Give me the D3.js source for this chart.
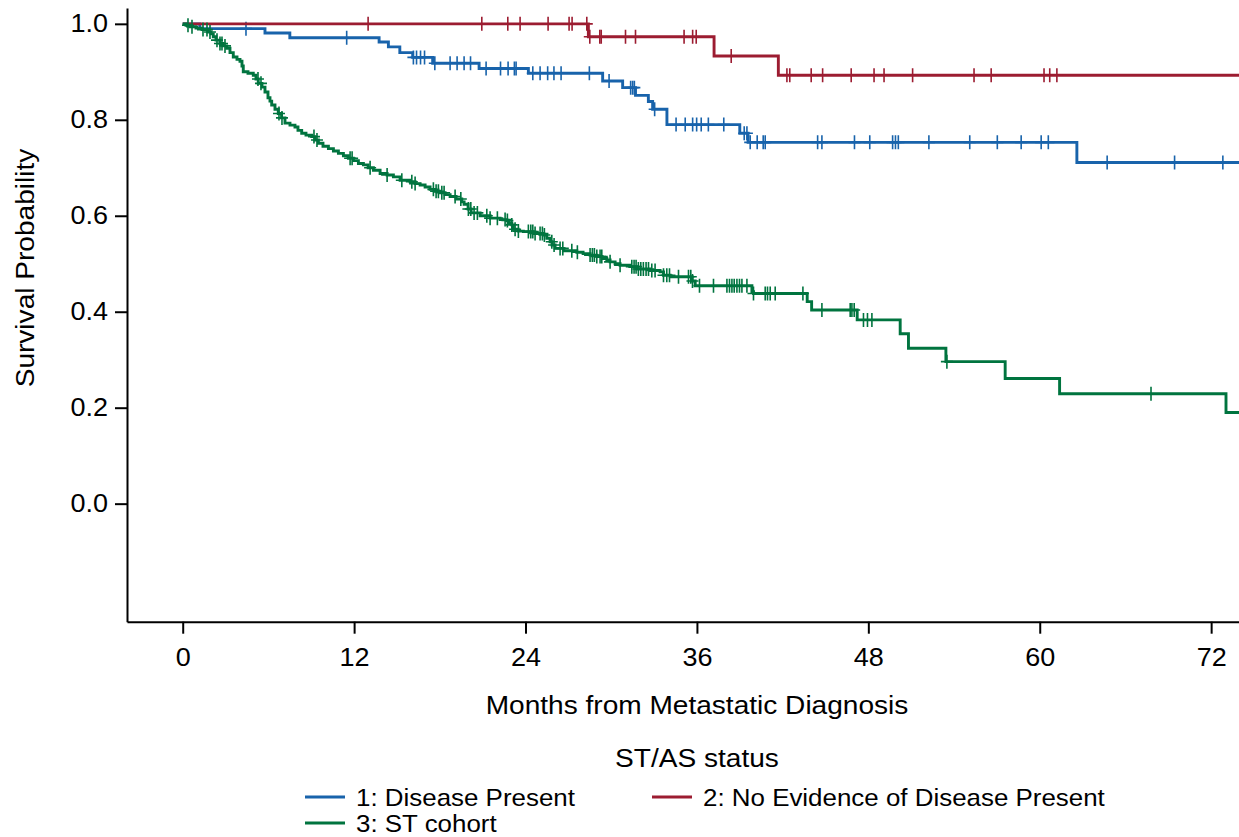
<!DOCTYPE html>
<html><head><meta charset="utf-8">
<script src="https://cdn.jsdelivr.net/npm/d3@7"></script>
<style>body{margin:0;background:#fff}svg{display:block}</style>
</head><body>
<svg id="chart" width="1239" height="837"></svg>
<script>
// ---------- data ----------
const xTicks = [0, 12, 24, 36, 48, 60, 72];
const yTicks = [0, 0.2, 0.4, 0.6, 0.8, 1.0];
const seriesNames = ["1: Disease Present", "2: No Evidence of Disease Present", "3: ST cohort"];
const legendTitle = "ST/AS status";
const xTitle = "Months from Metastatic Diagnosis";
const yTitle = "Survival Probability";
const tEnd = 74.0;

// [month, survival] : survival level from this month onward
const blueSteps = [[0,1],[1.2,0.990],[5.76,0.981],[7.5,0.971],[13.75,0.962],[14.4,0.952],[15.2,0.940],[16.1,0.930],[17.5,0.918],[20.75,0.907],[24.2,0.897],[29.4,0.881],[30.8,0.867],[31.7,0.851],[32.6,0.838],[32.9,0.822],[33.9,0.790],[39.0,0.772],[39.58,0.753],[62.6,0.711]];
const blueCensor = [4.43,11.48,16.15,16.37,16.65,16.93,17.65,18.72,19.21,19.70,20.15,21.24,22.25,22.78,23.22,23.34,24.51,25.02,25.55,25.99,26.49,28.47,29.85,31.36,31.50,31.62,33.04,34.54,35.18,35.70,35.98,36.30,36.80,37.88,39.31,39.50,39.73,40.22,40.64,40.78,44.45,44.75,47.03,48.10,49.70,49.90,50.10,52.24,55.10,57.03,58.70,60.10,60.60,64.72,69.44,72.82];

const redSteps = [[0,1],[28.4,0.973],[37.2,0.933],[41.7,0.893]];
const redCensor = [12.98,20.94,22.76,23.62,25.58,27.05,27.26,28.29,28.5,29.2,29.3,31.0,31.7,35.1,35.7,35.95,38.4,42.3,42.5,44.0,44.8,46.8,48.4,49.1,51.1,55.4,56.6,60.3,60.7,61.2];

const greenSteps = [[0,1],[0.23,0.997],[0.51,0.994],[0.93,0.991],[1.35,0.988],[1.77,0.983],[1.98,0.979],[2.14,0.973],[2.33,0.966],[2.61,0.959],[2.82,0.954],[3.08,0.949],[3.31,0.940],[3.54,0.931],[3.80,0.926],[4.01,0.922],[4.15,0.912],[4.24,0.900],[4.57,0.897],[4.94,0.893],[5.13,0.885],[5.29,0.876],[5.55,0.868],[5.76,0.858],[5.97,0.846],[6.11,0.839],[6.23,0.831],[6.46,0.822],[6.69,0.813],[6.92,0.804],[7.16,0.793],[7.51,0.789],[7.86,0.785],[8.07,0.778],[8.33,0.772],[8.63,0.768],[9.03,0.765],[9.26,0.758],[9.50,0.751],[9.82,0.745],[10.20,0.740],[10.55,0.735],[10.90,0.730],[11.25,0.725],[11.60,0.720],[11.95,0.715],[12.30,0.709],[12.65,0.706],[12.98,0.700],[13.35,0.695],[13.82,0.688],[14.31,0.685],[14.75,0.681],[15.22,0.674],[15.92,0.671],[16.27,0.667],[16.62,0.664],[16.97,0.660],[17.32,0.655],[17.67,0.651],[18.02,0.648],[18.37,0.644],[18.72,0.640],[19.14,0.635],[19.54,0.629],[19.70,0.624],[19.98,0.614],[20.19,0.606],[20.82,0.600],[21.52,0.595],[22.22,0.592],[22.69,0.590],[22.85,0.585],[23.04,0.581],[23.15,0.572],[23.48,0.568],[23.85,0.567],[24.55,0.563],[25.25,0.560],[25.49,0.553],[25.72,0.546],[25.86,0.539],[26.07,0.532],[26.65,0.527],[27.59,0.524],[28.03,0.521],[28.52,0.518],[28.99,0.515],[29.36,0.511],[29.69,0.508],[29.92,0.504],[30.27,0.500],[30.62,0.497],[31.32,0.494],[31.79,0.489],[32.72,0.486],[33.42,0.483],[33.66,0.476],[34.13,0.473],[35.67,0.464],[35.88,0.454],[39.85,0.442],[39.96,0.438],[43.72,0.421],[44.03,0.4035],[47.22,0.383],[50.23,0.354],[50.81,0.324],[53.43,0.296],[57.58,0.261],[61.39,0.229],[73.04,0.190]];
const greenCensor = [0.37,0.65,1.42,1.70,1.91,2.40,2.61,2.75,2.96,5.27,5.48,6.74,6.95,9.19,9.40,11.72,11.86,13.12,14.31,15.34,16.04,16.27,17.55,17.74,17.90,18.14,18.30,19.07,19.47,20.00,20.17,20.40,20.63,21.29,21.52,22.03,22.57,22.73,23.04,23.27,23.50,24.20,24.37,24.51,24.67,25.02,25.18,25.32,25.84,26.00,26.42,26.61,27.24,27.63,28.52,28.68,28.82,28.99,29.22,29.34,29.92,30.62,31.44,31.60,31.74,31.90,32.07,32.25,32.44,32.61,32.84,33.07,33.66,33.89,34.08,34.71,35.41,35.57,35.69,36.18,37.16,38.10,38.28,38.45,38.61,38.80,38.98,39.15,39.50,39.96,40.78,40.94,41.13,41.48,43.42,44.75,46.73,46.85,47.01,47.66,47.94,48.25,53.50,67.79];

const colors = ["#1863ab", "#9c1c31", "#00743f"];

// ---------- drawing ----------
const FONT = "'Liberation Sans', Arial, Helvetica, sans-serif";
const SX = 1.08;
const svg = d3.select("#chart");
svg.append("rect").attr("width",1239).attr("height",837).attr("fill","#fff");

const x = d3.scaleLinear().domain([-3.9, 73.95]).range([127, 1239]);
const y = d3.scaleLinear().domain([-0.246, 1.033]).range([621.7, 8]);

// axes
const gx = svg.append("g").attr("transform","translate(0,621.7)")
  .call(d3.axisBottom(x).tickValues(xTicks).tickSize(12).tickSizeOuter(0).tickPadding(15).tickFormat(d3.format("d")));
const gy = svg.append("g").attr("transform","translate(127,0)")
  .call(d3.axisLeft(y).tickValues(yTicks).tickSize(12).tickSizeOuter(0).tickPadding(5.5).tickFormat(d3.format(".1f")));
[gx, gy].forEach(g => {
  g.select(".domain").attr("stroke","#000").attr("stroke-width",2);
  g.selectAll(".tick line").attr("stroke","#000").attr("stroke-width",2);
  g.selectAll(".tick text").attr("fill","#000").style("font-family",FONT).style("font-size","25px")
    .attr("transform",`scale(${SX},1)`);
});

// titles
svg.append("text").attr("transform",`translate(697,714) scale(${SX},1)`)
  .attr("text-anchor","middle").style("font-family",FONT).style("font-size","26px").text(xTitle);
svg.append("text").attr("transform",`translate(34,268) rotate(-90) scale(${SX},1)`)
  .attr("text-anchor","middle").style("font-family",FONT).style("font-size","26px").text(yTitle);

// curves
const series = [
  {steps: blueSteps, censor: blueCensor, color: colors[0]},
  {steps: redSteps, censor: redCensor, color: colors[1]},
  {steps: greenSteps, censor: greenCensor, color: colors[2]}
];
const line = d3.line().x(d => x(d[0])).y(d => y(d[1])).curve(d3.curveStepAfter);
function level(steps, t){ let s = steps[0][1]; for (const st of steps){ if (st[0] <= t) s = st[1]; } return s; }

series.forEach(sr => {
  const pts = sr.steps.concat([[tEnd, sr.steps[sr.steps.length-1][1]]]);
  svg.append("path").attr("d", line(pts)).attr("fill","none")
    .attr("stroke", sr.color).attr("stroke-width", 2.9).attr("stroke-linejoin","miter");
  svg.append("g").selectAll("path").data(sr.censor).join("path")
    .attr("d", t => { const px = x(t), py = y(level(sr.steps, t));
      return `M${px-6},${py}H${px+6}M${px},${py-7}V${py+7}`; })
    .attr("stroke", sr.color).attr("stroke-width", 1.6).attr("fill","none");
});

// legend
svg.append("text").attr("transform",`translate(697,767) scale(${SX},1)`)
  .attr("text-anchor","middle").style("font-family",FONT).style("font-size","26px").text(legendTitle);
const legendPos = [[305,797],[652,797],[305,823]];
seriesNames.forEach((name,i) => {
  const [lx, ly] = legendPos[i];
  svg.append("line").attr("x1",lx).attr("x2",lx+40).attr("y1",ly).attr("y2",ly)
    .attr("stroke",colors[i]).attr("stroke-width",2.8);
  svg.append("text").attr("transform",`translate(${lx+51},${ly+8.5}) scale(${SX},1)`)
    .style("font-family",FONT).style("font-size","24px").text(name);
});
</script>
</body></html>
